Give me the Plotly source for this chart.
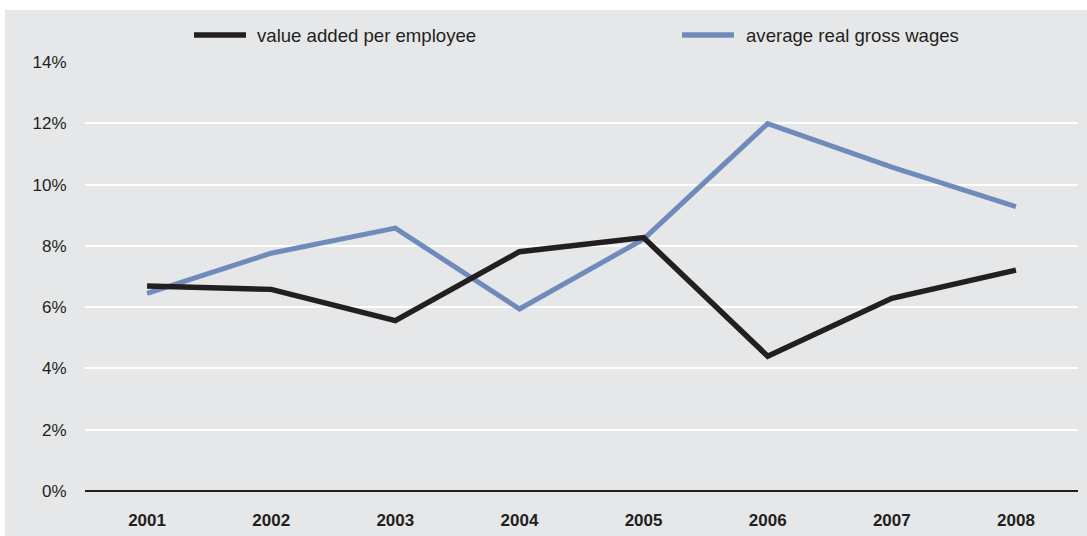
import plotly.graph_objects as go

# ---- data ----
years = [2001, 2002, 2003, 2004, 2005, 2006, 2007, 2008]
value_added_per_employee = [6.69, 6.58, 5.56, 7.81, 8.27, 4.40, 6.29, 7.21]
average_real_gross_wages = [6.45, 7.76, 8.58, 5.94, 8.22, 11.99, 10.57, 9.28]
y_ticks = [0, 2, 4, 6, 8, 10, 12, 14]
y_tick_labels = ["0%", "2%", "4%", "6%", "8%", "10%", "12%", "14%"]
series_names = ["value added per employee", "average real gross wages"]

# ---- layout constants (pixels) ----
W, H = 1087, 536
L, R, T, B = 85, 1078, 62, 491
BLACK = "#231f20"
BLUE = "#6f8bbb"
BG = "#e6e7e8"
FONT = "Liberation Sans, Arial, sans-serif"


def px_x(p):
    return (p - L) / (R - L)


def px_y(p):
    return (B - p) / (B - T)


fig = go.Figure()
fig.add_trace(go.Scatter(x=years, y=average_real_gross_wages, mode="lines",
                         line=dict(color=BLUE, width=5), name=series_names[1],
                         showlegend=False))
fig.add_trace(go.Scatter(x=years, y=value_added_per_employee, mode="lines",
                         line=dict(color=BLACK, width=5.5), name=series_names[0],
                         showlegend=False))

shapes = [
    # white strips around the grey panel
    dict(type="rect", xref="paper", yref="paper", x0=px_x(-5), x1=px_x(W + 5),
         y0=px_y(10), y1=px_y(-5), fillcolor="white", line_width=0, layer="above"),
    dict(type="rect", xref="paper", yref="paper", x0=px_x(-5), x1=px_x(5),
         y0=px_y(W), y1=px_y(-5), fillcolor="white", line_width=0, layer="above"),
    # legend swatches
    dict(type="line", xref="paper", yref="paper", x0=px_x(194), x1=px_x(246),
         y0=px_y(35), y1=px_y(35), line=dict(color=BLACK, width=5.5)),
    dict(type="line", xref="paper", yref="paper", x0=px_x(682), x1=px_x(734),
         y0=px_y(35), y1=px_y(35), line=dict(color=BLUE, width=5.5)),
]
annotations = [
    dict(xref="paper", yref="paper", x=px_x(255), y=px_y(35), text=series_names[0],
         showarrow=False, xanchor="left", yanchor="middle",
         font=dict(family=FONT, size=18.6, color=BLACK)),
    dict(xref="paper", yref="paper", x=px_x(744), y=px_y(35), text=series_names[1],
         showarrow=False, xanchor="left", yanchor="middle",
         font=dict(family=FONT, size=18.6, color=BLACK)),
]

fig.update_layout(
    width=W, height=H,
    margin=dict(l=L, r=W - R, t=T, b=H - B),
    paper_bgcolor=BG, plot_bgcolor=BG,
    showlegend=False,
    shapes=shapes, annotations=annotations,
    font=dict(family=FONT, size=17, color=BLACK),
    xaxis=dict(range=[2000.5, 2008.5], tickvals=years,
               ticktext=[f"<b>{y}</b>" for y in years],
               showgrid=False, zeroline=False, showline=False,
               ticks="outside", ticklen=14, tickcolor="rgba(0,0,0,0)",
               automargin=False,
               tickfont=dict(family=FONT, size=17, color=BLACK)),
    yaxis=dict(range=[0, 14], tickvals=y_ticks, ticktext=y_tick_labels,
               showgrid=True, gridcolor="white", gridwidth=2,
               zeroline=True, zerolinecolor=BLACK, zerolinewidth=2,
               showline=False, ticks="outside", ticklen=14,
               tickcolor="rgba(0,0,0,0)", automargin=False,
               tickfont=dict(family=FONT, size=17, color=BLACK)),
)

fig.write_html("out.html")
